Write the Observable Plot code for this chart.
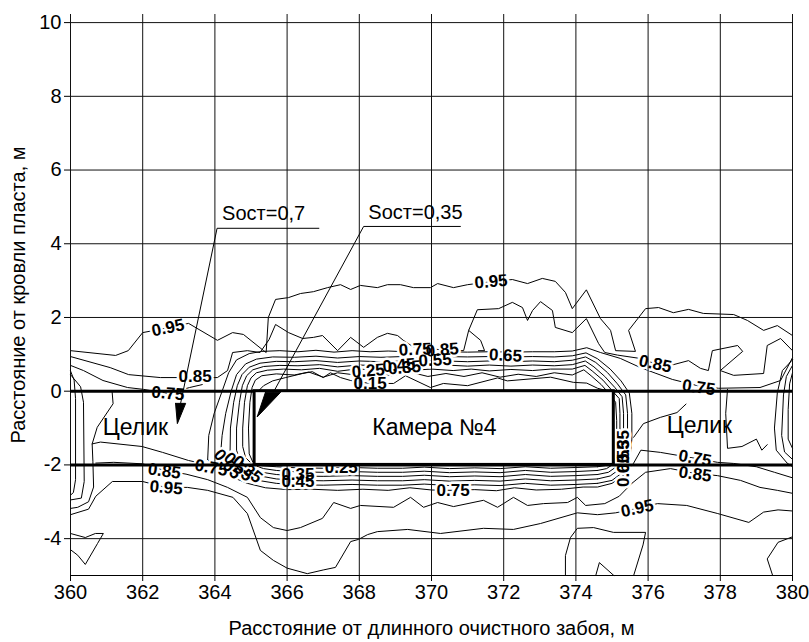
<!DOCTYPE html>
<html><head><meta charset="utf-8">
<script src="https://cdn.jsdelivr.net/npm/d3@7"></script>
<script src="https://cdn.jsdelivr.net/npm/@observablehq/plot@0.6"></script>
<style>body{margin:0;background:#fff} svg{display:block}</style>
</head><body><div id="chart"></div>
<script>
// ---- axes ----
const xTicks = [360,362,364,366,368,370,372,374,376,378,380];
const yTicks = [-4,-2,0,2,4,6,8,10];
const seamY = [0,-2];
const xTitle = "Расстояние от длинного очистного забоя, м";
const yTitle = "Расстояние от кровли пласта, м";

// ---- contour polylines (x in m, y in m) ----
const c95_top = [[360,1.10],[361.25,0.97],[361.6,1.10],[362.0,1.59],[362.7,1.72],[363.27,1.84],[364.07,1.38],[364.49,1.59],[364.79,1.54],[365.35,1.10],[365.42,1.05],[365.48,2.0],[365.68,2.49],[366.04,2.54],[366.37,2.65],[366.73,2.70],[367.12,2.81],[367.48,2.89],[367.76,2.76],[368.03,2.87],[368.5,2.81],[368.78,2.89],[369.14,2.89],[369.5,2.81],[369.97,2.81],[370.17,2.92],[370.61,2.81],[371.0,2.89],[371.65,2.97],[372.24,3.03],[372.66,2.92],[373.07,3.06],[373.43,2.98],[373.71,2.68],[373.9,2.24],[374.29,2.75],[374.68,1.97],[374.96,1.65],[375.10,1.10],[375.65,1.08],[375.46,1.65],[375.93,2.24],[376.29,2.27],[376.70,2.13],[377.12,2.22],[377.53,2.11],[378.37,2.08],[378.75,1.92],[379.2,1.65],[379.58,1.78],[380,1.51]];
const c85_top = [[360,0.94],[361.1,0.64],[361.61,0.45],[362.49,0.37],[363.46,0.37],[364.07,0.37],[364.35,0.56],[364.49,1.05],[364.9,1.1],[365.25,1.05],[365.5,1.4],[365.68,1.81],[366.04,1.59],[366.43,1.43],[366.73,1.46],[366.98,1.51],[367.40,1.10],[367.76,1.46],[368.12,1.19],[368.50,1.46],[368.78,1.57],[369.06,1.51],[369.22,1.38],[369.5,1.2],[370.3,1.12],[370.89,1.10],[371.03,1.65],[371.27,2.21],[371.86,2.24],[372.24,2.41],[372.52,2.27],[372.66,1.92],[372.80,2.19],[373.02,2.43],[373.35,2.19],[373.43,1.73],[373.90,1.59],[374.29,1.97],[374.63,1.29],[374.8,1.05],[375.15,0.98],[375.7,0.9],[376.2,0.75],[376.70,0.72],[377.12,0.83],[377.45,0.62],[377.67,0.56],[377.78,1.10],[378.48,1.24],[378.62,1.08],[378.0,0.56],[378.37,0.43],[379.2,0.48],[379.3,1.24],[379.67,1.43],[380,1.1]];
const c85_tri = [[371.03,1.65],[371.36,1.38],[371.47,1.10],[371.3,1.10]];
const c75_left = [[360,0.70],[360.36,0.56],[360.9,0.29],[361.58,0.10],[362.02,0.05],[362.7,-0.06],[363.3,0.1],[363.65,0.18]];
const c75_main = [[363.8,-1.85],[363.83,-1.2],[363.98,-0.6],[364.2,0.0],[364.38,0.5],[364.6,0.85],[364.95,1.02],[365.3,1.08],[365.8,1.1],[366.3,1.07],[366.8,1.11],[367.3,1.06],[367.8,1.1],[368.3,1.07],[368.8,1.09],[369.3,1.07],[369.8,1.08],[370.4,1.07],[371.0,1.06],[371.6,1.07],[372.2,1.06],[372.8,1.07],[373.4,1.07],[373.9,1.09],[374.3,1.18],[374.68,1.05],[375.23,0.89],[375.79,0.64],[376.67,0.32],[377.37,0.15],[377.95,0.08],[379.1,0.1],[379.67,0.29],[380,0.91]];
const c75_low = [[363.8,-1.85],[364.0,-2.1],[364.4,-2.3],[364.9,-2.5],[365.4,-2.62],[366.0,-2.67],[366.7,-2.66],[367.4,-2.69],[368.1,-2.66],[368.8,-2.69],[369.4,-2.62],[370.0,-2.68],[370.6,-2.69],[371.2,-2.67],[371.8,-2.7],[372.3,-2.62],[372.9,-2.68],[373.6,-2.66],[374.2,-2.6],[374.6,-2.6],[375.0,-2.5],[375.3,-2.3],[375.6,-1.95],[375.8,-1.6],[376.34,-1.66],[377.3,-1.82],[377.92,-1.93],[378.37,-1.96],[379.0,-2.05],[379.5,-2.2],[380,-2.35]];
const c75_pillar = [[360.6,-1.43],[360.83,-1.38],[361.98,-1.5],[362.55,-1.66],[363.27,-1.88],[363.6,-1.95]];
const c65 = [[374.6,-2.5],[374.0,-2.53],[373.3,-2.55],[372.6,-2.5],[371.9,-2.56],[371.2,-2.54],[370.5,-2.56],[369.8,-2.52],[369.2,-2.55],[368.5,-2.55],[367.8,-2.53],[367.0,-2.55],[366.3,-2.54],[365.7,-2.5],[365.2,-2.42],[364.7,-2.28],[364.3,-2.08],[364.15,-1.8],[364.2,-1.2],[364.3,-0.6],[364.45,0.0],[364.6,0.45],[364.85,0.74],[365.15,0.87],[365.6,0.93],[366.2,0.92],[366.8,0.95],[367.4,0.9],[368.0,0.94],[368.6,0.92],[369.2,0.94],[369.8,0.93],[370.4,0.94],[371.0,0.93],[371.6,0.94],[372.2,0.93],[372.8,0.94],[373.4,0.93],[373.9,0.96],[374.28,1.04],[374.6,0.88],[374.95,0.6],[375.25,0.28],[375.48,-0.05],[375.55,-0.6],[375.55,-1.3],[375.5,-1.8],[375.3,-2.2],[375.0,-2.42],[374.6,-2.5]];
const c55 = [[374.6,-2.38],[374.0,-2.41],[373.3,-2.43],[372.6,-2.38],[371.9,-2.44],[371.2,-2.42],[370.5,-2.44],[369.8,-2.4],[369.2,-2.43],[368.5,-2.43],[367.8,-2.41],[367.0,-2.43],[366.3,-2.42],[365.7,-2.38],[365.25,-2.3],[364.85,-2.18],[364.55,-2.0],[364.42,-1.7],[364.43,-1.0],[364.52,-0.3],[364.62,0.15],[364.75,0.45],[364.95,0.65],[365.25,0.76],[365.7,0.81],[366.2,0.8],[366.8,0.83],[367.4,0.78],[368.0,0.82],[368.6,0.8],[369.2,0.82],[369.8,0.81],[370.4,0.82],[371.0,0.8],[371.6,0.82],[372.2,0.8],[372.8,0.82],[373.4,0.8],[373.9,0.84],[374.27,0.93],[374.55,0.78],[374.88,0.5],[375.15,0.2],[375.38,-0.1],[375.43,-0.6],[375.43,-1.3],[375.38,-1.8],[375.2,-2.12],[374.95,-2.3],[374.6,-2.38]];
const c45 = [[374.6,-2.26],[374.0,-2.29],[373.3,-2.31],[372.6,-2.26],[371.9,-2.32],[371.2,-2.3],[370.5,-2.32],[369.8,-2.28],[369.2,-2.31],[368.5,-2.31],[367.8,-2.29],[367.0,-2.31],[366.3,-2.3],[365.7,-2.26],[365.3,-2.2],[364.95,-2.08],[364.7,-1.9],[364.6,-1.6],[364.6,-1.0],[364.68,-0.3],[364.76,0.15],[364.88,0.42],[365.05,0.58],[365.35,0.67],[365.8,0.70],[366.3,0.69],[366.9,0.72],[367.4,0.66],[368.0,0.71],[368.6,0.69],[369.2,0.71],[369.8,0.69],[370.4,0.71],[371.0,0.68],[371.6,0.71],[372.2,0.68],[372.8,0.71],[373.4,0.69],[373.9,0.72],[374.26,0.82],[374.5,0.66],[374.8,0.4],[375.08,0.1],[375.28,-0.15],[375.32,-0.6],[375.32,-1.3],[375.28,-1.75],[375.12,-2.05],[374.9,-2.2],[374.6,-2.26]];
const c35 = [[374.6,-2.15],[374.0,-2.18],[373.3,-2.2],[372.6,-2.15],[371.9,-2.21],[371.2,-2.19],[370.5,-2.21],[369.8,-2.17],[369.2,-2.2],[368.5,-2.2],[367.8,-2.18],[367.0,-2.2],[366.3,-2.19],[365.7,-2.15],[365.35,-2.1],[365.05,-2.0],[364.85,-1.8],[364.77,-1.5],[364.77,-1.0],[364.82,-0.3],[364.9,0.15],[365.0,0.36],[365.15,0.5],[365.45,0.57],[365.9,0.60],[366.4,0.58],[366.9,0.62],[367.4,0.54],[367.9,0.6],[368.5,0.58],[369.0,0.62],[369.5,0.57],[370.0,0.6],[370.6,0.56],[371.1,0.6],[371.6,0.55],[372.2,0.59],[372.8,0.56],[373.3,0.6],[373.9,0.6],[374.25,0.7],[374.45,0.55],[374.75,0.3],[375.0,0.02],[375.2,-0.2],[375.22,-0.6],[375.22,-1.3],[375.18,-1.7],[375.05,-1.97],[374.85,-2.1],[374.6,-2.15]];
const c25 = [[374.6,-2.05],[374.0,-2.07],[373.3,-2.09],[372.6,-2.05],[371.9,-2.1],[371.2,-2.08],[370.5,-2.1],[369.8,-2.06],[369.2,-2.09],[368.5,-2.09],[367.8,-2.07],[367.0,-2.09],[366.3,-2.08],[365.7,-2.05],[365.3,-2.02],[365.05,-1.92],[364.95,-1.7],[364.93,-1.0],[364.97,-0.3],[365.03,0.1],[365.12,0.3],[365.3,0.42],[365.7,0.47],[366.2,0.44],[366.6,0.52],[367.0,0.38],[367.4,0.5],[367.9,0.44],[368.4,0.5],[368.9,0.42],[369.4,0.52],[369.9,0.4],[370.4,0.48],[370.9,0.4],[371.4,0.5],[371.9,0.38],[372.4,0.46],[372.9,0.4],[373.4,0.5],[373.9,0.44],[374.22,0.58],[374.42,0.42],[374.7,0.18],[374.95,-0.1],[375.1,-0.3],[375.13,-0.8],[375.13,-1.4],[375.1,-1.8],[375.0,-1.95],[374.8,-2.02],[374.6,-2.05]];
const c15 = [[365.2,0.0],[365.35,0.15],[365.6,0.28],[365.96,0.37],[366.43,0.48],[366.7,0.53],[367.0,0.37],[367.2,0.5],[367.48,0.37],[367.76,0.29],[368.3,0.21],[368.95,0.21],[369.28,0.42],[369.97,0.1],[370.33,0.21],[371.0,0.15],[371.83,0.36],[372.1,0.28],[373.3,0.38],[373.93,0.24],[374.3,0.22],[374.6,0.08],[374.9,0.0]];
const pil1 = [[360,0.55],[360.1,0.3],[360.14,-0.2],[360.14,-2.4],[360.08,-2.75],[360,-2.82]];
const pil2 = [[360,0.45],[360.28,0.12],[360.36,-0.3],[360.38,-2.45],[360.3,-2.9],[360,-2.95]];
const pil3 = [[361.15,0.02],[361.18,-0.34],[360.74,-0.98],[360.6,-1.43],[360.62,-1.9],[360.64,-2.6],[360.5,-3.0],[360.2,-3.15],[360,-3.18]];
const c85_low = [[360.7,-1.95],[361.2,-1.93],[362.0,-1.97],[362.6,-2.15],[363.2,-2.25],[363.8,-2.4],[364.35,-2.61],[364.9,-2.88],[365.26,-3.43],[365.62,-3.70],[366.0,-3.78],[366.37,-3.70],[366.98,-3.45],[367.29,-3.02],[367.76,-3.18],[368.03,-3.10],[368.95,-3.15],[369.42,-2.88],[369.78,-3.15],[370.17,-3.02],[370.61,-3.13],[371.44,-2.96],[371.83,-3.15],[372.27,-2.88],[372.66,-3.10],[373.10,-3.05],[373.77,-3.02],[374.04,-2.88],[374.27,-3.10],[374.8,-3.05],[375.2,-2.85],[375.55,-2.5],[375.93,-2.2],[376.62,-2.1],[377.3,-2.23],[377.92,-2.29],[378.56,-2.42],[379.1,-2.61],[379.58,-2.69],[380,-2.77]];
const c95_low = [[360,-3.35],[360.5,-3.2],[360.7,-2.85],[361.16,-2.45],[362.0,-2.45],[362.63,-2.61],[363.24,-2.61],[363.8,-2.69],[364.5,-2.88],[364.9,-3.32],[365.26,-4.32],[365.62,-4.59],[366.0,-4.8],[366.56,-4.95],[367.0,-4.85],[367.34,-4.78],[367.76,-4.08],[367.98,-4.02],[368.23,-3.89],[368.5,-3.81],[369.34,-3.75],[370.25,-3.86],[371.44,-3.72],[372.27,-3.75],[373.02,-3.59],[374.04,-3.3],[374.6,-3.35],[375.1,-3.3],[375.7,-3.18],[376.26,-3.05],[377.07,-3.1],[377.93,-3.32],[378.79,-3.56],[379.2,-3.28],[379.6,-3.22],[380,-3.25]];
const wedge = [[360,-3.86],[360.41,-3.97],[360.69,-3.86],[360.91,-3.86],[360.75,-4.13],[360.41,-4.7],[360.2,-4.45],[360,-4.3]];
const lowRight = [[373.71,-5],[373.71,-4.46],[373.85,-3.97],[374.04,-3.72],[374.49,-3.70],[375.04,-3.83],[375.93,-3.83],[375.86,-4.17],[375.6,-5]];
const lowV = [[374.55,-5],[374.65,-4.65],[375.05,-5]];
const lowEdge = [[379.45,-5],[379.3,-4.55],[379.6,-4.1],[380,-3.95]];
const edge1 = [[380,0.85],[379.72,0.56],[379.58,-0.04],[379.5,-1.0],[379.55,-1.6],[379.85,-1.95],[380,-2.05]];
const edge2 = [[380,0.7],[379.83,0.4],[379.75,-0.1],[379.7,-1.2],[379.78,-1.65],[380,-1.85]];
const edge3 = [[380,0.5],[379.92,0.2],[379.88,-0.5],[379.88,-1.3],[380,-1.55]];
const rightIn1 = [[375.6,-1.25],[375.87,-0.88],[376.34,-0.71],[376.8,-0.58],[377.05,-0.35]];
const rightIn2 = [[378.2,0.05],[378.15,-0.6],[378.2,-1.55],[378.6,-1.5],[379.0,-1.3],[379.15,-1.6],[379.3,-1.45]];

const contourSets = [
  ["c95_top",c95_top],["c85_top",c85_top],["c85_tri",c85_tri],["c75_left",c75_left],["c75_main",c75_main],
  ["c75_low",c75_low],["c75_pillar",c75_pillar],["c65",c65],["c55",c55],["c45",c45],["c35",c35],["c25",c25],["c15",c15],
  ["pil1",pil1],["pil2",pil2],["pil3",pil3],["c85_low",c85_low],["c95_low",c95_low],["wedge",wedge],
  ["lowRight",lowRight],["lowV",lowV],["lowEdge",lowEdge],["edge1",edge1],["edge2",edge2],["edge3",edge3],
  ["rightIn1",rightIn1],["rightIn2",rightIn2]
];

// ---- contour labels: text, x, y, rotation ----
const contourLabels = [
  ["0.95",362.7,1.72,-12],["0.85",363.45,0.40,0],["0.75",362.7,-0.06,5],
  ["0.95",371.65,2.97,-5],["0.75",369.55,1.13,-3],["0.85",370.3,1.12,-5],["0.65",372.05,0.97,3],
  ["0.55",370.1,0.84,-3],["0.45",369.1,0.70,-5],["0.35",369.25,0.64,-5],["0.25",368.25,0.55,-5],["0.15",368.3,0.2,0],
  ["0.85",376.2,0.74,12],["0.75",377.4,0.1,8],["0.75",377.3,-1.82,10],["0.85",377.3,-2.25,8],["0.95",375.7,-3.18,-12],
  ["0.75",370.6,-2.7,0],["0.35",366.3,-2.27,0],["0.45",366.3,-2.44,0],["0.25",367.5,-2.07,0],
  ["0.85",362.6,-2.17,8],["0.95",362.65,-2.62,5],["0.75",363.9,-2.08,10],
  ["0.65",364.35,-1.98,50],["0.55",364.65,-2.05,45],["0.35",364.9,-2.12,40],
  ["0.65",375.33,-2.15,-90],["0.55",375.33,-1.78,-90],["0.35",375.33,-1.5,-90]
];

// ---- chamber and annotations ----
const chamber = [{x1:365.1, x2:375.05, y1:-2, y2:0}];
const regionText = [["Камера №4",370.08,-0.98],["Целик",361.8,-0.98],["Целик",377.42,-0.93]];
const noteText = [["Sост=0,7",364.2,4.82],["Sост=0,35",368.25,4.85]];
const leader1 = [[366.88,4.42],[364.06,4.42],[363.05,-0.33]];
const leader2 = [[370.8,4.47],[368.12,4.47],[365.62,-0.03]];
const head1 = [[362.91,-0.33],[363.19,-0.33],[362.96,-0.88],[362.91,-0.33]];
const head2 = [[365.4,-0.03],[365.82,-0.03],[365.17,-0.70],[365.4,-0.03]];

const rows = [];
for (const [id, pts] of contourSets) for (const [x, y] of pts) rows.push({id, x, y});
const labels = contourLabels.map(([text, x, y, rotate]) => ({text, x, y, rotate}));
const font = "'Liberation Sans', Arial, sans-serif";
const P = d => d[0], Q = d => d[1];

const chart = Plot.plot({
  width: 809, height: 642,
  marginLeft: 70, marginRight: 17, marginTop: 14, marginBottom: 67,
  style: {fontFamily: font, fontSize: "20px", background: "white", color: "black"},
  x: {domain: [360, 380], ticks: xTicks, tickFormat: d => String(d), tickSize: 6, label: null},
  y: {domain: [-5, 10.22], ticks: yTicks, tickFormat: d => String(d), tickSize: 6, label: null},
  marks: [
    Plot.line(rows, {x: "x", y: "y", z: "id", stroke: "black", strokeWidth: 1, curve: "linear"}),
    Plot.text(labels, {x: "x", y: "y", text: "text", rotate: "rotate", fontSize: 17, fontWeight: "bold", fill: "white", stroke: "white", strokeWidth: 5}),
    Plot.ruleX(xTicks, {stroke: "#111", strokeWidth: 1}),
    Plot.ruleY(yTicks, {stroke: "#111", strokeWidth: 1}),
    Plot.ruleY([-5], {stroke: "black", strokeWidth: 1.2}),
    Plot.ruleY(seamY, {stroke: "black", strokeWidth: 3}),
    Plot.text(labels, {x: "x", y: "y", text: "text", rotate: "rotate", fontSize: 17, fontWeight: "bold", fill: "black"}),
    Plot.rect(chamber, {x1: "x1", x2: "x2", y1: "y1", y2: "y2", fill: "white", stroke: "black", strokeWidth: 3}),
    Plot.line(leader1, {x: P, y: Q, stroke: "black", strokeWidth: 1}),
    Plot.line(leader2, {x: P, y: Q, stroke: "black", strokeWidth: 1}),
    Plot.line(head1, {x: P, y: Q, stroke: "black", fill: "black", strokeWidth: 1}),
    Plot.line(head2, {x: P, y: Q, stroke: "black", fill: "black", strokeWidth: 1}),
    Plot.text(regionText, {x: d => d[1], y: d => d[2], text: d => d[0], fontSize: 23, fill: "black"}),
    Plot.text(noteText, {x: d => d[1], y: d => d[2], text: d => d[0], fontSize: 20, textAnchor: "start", fill: "black"}),
    Plot.text([xTitle], {frameAnchor: "bottom", dy: 53, text: d => d, fontSize: 20, textAnchor: "middle", lineAnchor: "middle"}),
    Plot.text([yTitle], {frameAnchor: "left", dx: -52, rotate: -90, text: d => d, fontSize: 20, textAnchor: "middle", lineAnchor: "middle"})
  ]
});
document.getElementById("chart").append(chart);
</script></body></html>
